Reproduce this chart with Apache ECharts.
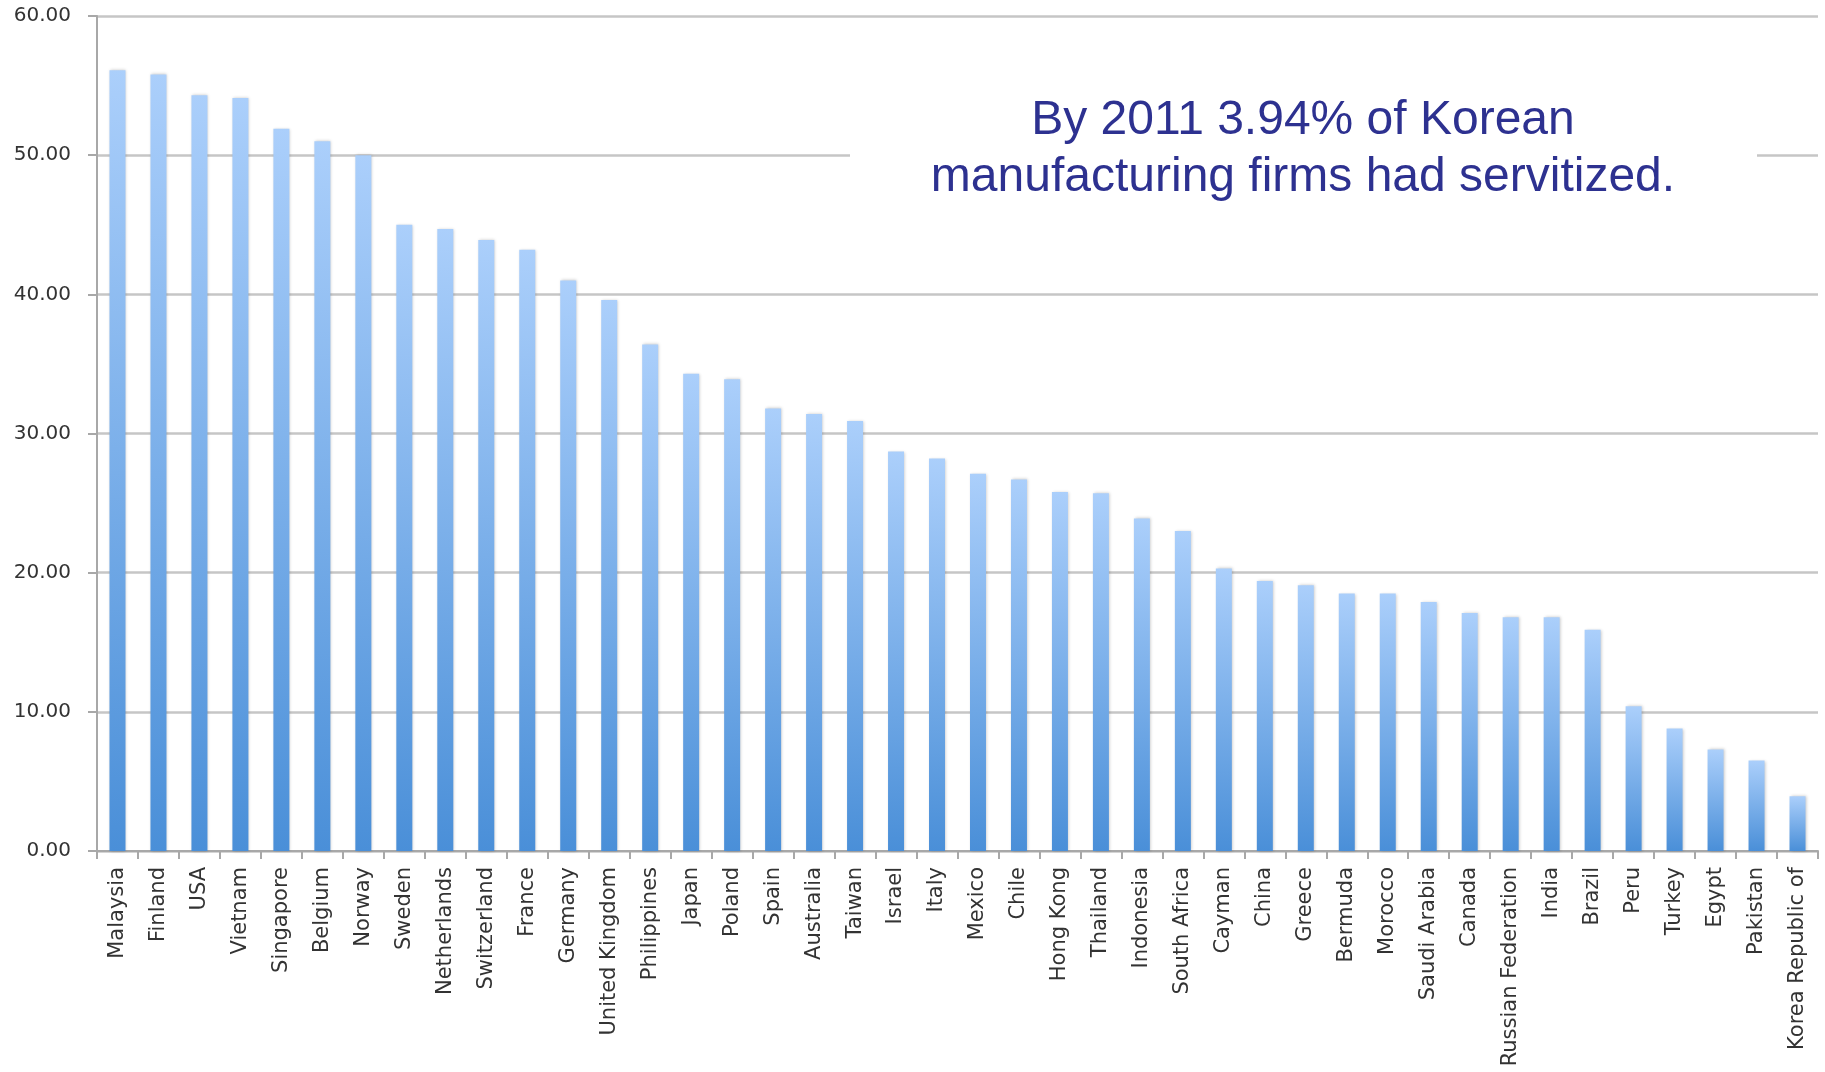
<!DOCTYPE html>
<html>
<head>
<meta charset="utf-8">
<script src="https://cdn.jsdelivr.net/npm/echarts@6/dist/echarts.min.js"></script>
<style>
html,body{margin:0;padding:0;background:#fff;}
#chart{width:1825px;height:1072px;}
</style>
</head>
<body>
<div id="chart"></div>
<script>
const categories = ["Malaysia","Finland","USA","Vietnam","Singapore","Belgium","Norway","Sweden","Netherlands","Switzerland","France","Germany","United Kingdom","Philippines","Japan","Poland","Spain","Australia","Taiwan","Israel","Italy","Mexico","Chile","Hong Kong","Thailand","Indonesia","South Africa","Cayman","China","Greece","Bermuda","Morocco","Saudi Arabia","Canada","Russian Federation","India","Brazil","Peru","Turkey","Egypt","Pakistan","Korea Republic of"];
const values = [56.1,55.8,54.3,54.1,51.9,51.0,50.0,45.0,44.7,43.9,43.2,41.0,39.6,36.4,34.3,33.9,31.8,31.4,30.9,28.7,28.2,27.1,26.7,25.8,25.7,23.9,23.0,20.3,19.4,19.1,18.5,18.5,17.9,17.1,16.8,16.8,15.9,10.4,8.8,7.3,6.5,3.94];
const yTicks = {min: 0, max: 60, interval: 10};
const annotationLines = ["By 2011 3.94% of Korean", "manufacturing firms had servitized."];

const chart = echarts.init(document.getElementById('chart'));
chart.setOption({
  animation: false,
  backgroundColor: '#ffffff',
  grid: {left: 97, right: 7, top: 16, bottom: 221, containLabel: false},
  xAxis: {
    type: 'category',
    data: categories,
    boundaryGap: true,
    axisLine: {show: true, lineStyle: {color: '#a8a8a8', width: 2}},
    axisTick: {show: true, alignWithLabel: false, length: 8, lineStyle: {color: '#a8a8a8', width: 2}},
    axisLabel: {interval: 0, rotate: 90, margin: 16, color: '#333', fontFamily: 'DejaVu Sans', fontSize: 21}
  },
  yAxis: {
    type: 'value',
    min: yTicks.min, max: yTicks.max, interval: yTicks.interval,
    axisLine: {show: true, lineStyle: {color: '#a8a8a8', width: 2}},
    axisTick: {show: true, inside: false, length: 9, lineStyle: {color: '#a8a8a8', width: 2}},
    splitLine: {show: true, lineStyle: {color: '#c6c6c6', width: 2.5}},
    axisLabel: {margin: 26, color: '#333', fontFamily: 'DejaVu Sans', fontSize: 20, padding: [6, 0, 0, 0], formatter: v => v.toFixed(2)}
  },
  series: [{
    type: 'bar',
    data: values,
    barWidth: 16,
    itemStyle: {
      color: new echarts.graphic.LinearGradient(0, 0, 0, 1, [
        {offset: 0, color: '#abcffb'},
        {offset: 1, color: '#4a8fd8'}
      ]),
      shadowColor: 'rgba(0,0,0,0.22)',
      shadowBlur: 3,
      shadowOffsetX: 1
    }
  }],
  graphic: [
    {type: 'rect', z: 100, shape: {x: 850, y: 85, width: 907, height: 125}, style: {fill: '#ffffff'}},
    {type: 'text', z: 101, x: 1303, y: 149, style: {
      text: annotationLines.join('\n'), align: 'center', verticalAlign: 'middle',
      fontFamily: 'Liberation Sans', fontSize: 48, lineHeight: 57, fill: '#2d3190'
    }}
  ]
});
</script>
</body>
</html>
